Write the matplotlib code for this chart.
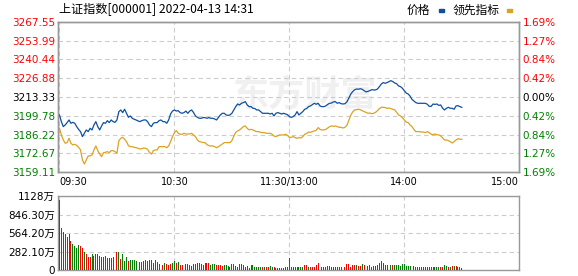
import numpy as np
import matplotlib
matplotlib.use("Agg")
import matplotlib.pyplot as plt
from matplotlib.patches import Rectangle

plt.rcParams['font.family'] = ['DejaVu Sans', 'Noto Sans CJK SC']

# axis setup
prev_close = 3213.33
price_ticks = [3159.11, 3172.67, 3186.22, 3199.78, 3213.33, 3226.88, 3240.44, 3253.99, 3267.55]
pct_labels = ['1.69%', '1.27%', '0.84%', '0.42%', '0.00%', '0.42%', '0.84%', '1.27%', '1.69%']
time_ticks = [0, 60, 120, 180, 240]
time_labels = ['09:30', '10:30', '11:30/13:00', '14:00', '15:00']
vol_ticks = [0, 282.1, 564.2, 846.3, 1128.4]
vol_labels = ['0', '282.10万', '564.20万', '846.30万', '1128万']

# price (blue), one value per minute, 09:30 .. 14:30
price = [3200.4, 3195.6, 3192.0, 3193.2, 3194.9, 3196.8, 3194.4, 3195.1, 3194.4, 3192.0,
         3190.0, 3188.4, 3184.8, 3187.2, 3189.6, 3188.4, 3190.8, 3189.6, 3193.2, 3195.6,
         3192.0, 3189.6, 3192.5, 3194.9, 3194.4, 3196.3, 3194.9, 3196.8, 3195.6, 3195.1,
         3196.8, 3202.8, 3204.0, 3202.1, 3204.5, 3201.6, 3198.7, 3199.7, 3198.0, 3197.3,
         3196.8, 3196.1, 3195.6, 3196.3, 3196.8, 3196.8, 3195.6, 3193.2, 3192.0, 3194.4,
         3194.9, 3194.9, 3196.3, 3196.8, 3195.6, 3195.6, 3194.4, 3196.8,
         3201.1, 3203.2, 3204.0, 3203.2, 3203.5, 3202.1, 3201.6, 3202.1, 3203.2, 3201.6,
         3203.2, 3204.0, 3202.1, 3199.7, 3198.7, 3198.0, 3198.0, 3198.5, 3198.5, 3198.0,
         3198.5, 3198.0, 3198.0, 3197.5, 3196.8, 3198.7, 3200.4, 3201.6, 3201.6, 3200.4,
         3200.1, 3200.4, 3201.6, 3204.0, 3206.4, 3208.3, 3207.6, 3208.8, 3209.3, 3210.0,
         3207.6, 3206.4, 3206.4, 3205.2, 3205.0, 3204.0, 3204.0, 3202.8, 3201.6, 3201.6,
         3201.6, 3201.6, 3201.1, 3201.6, 3199.7, 3201.6, 3202.1, 3201.6, 3201.1, 3201.6,
         3201.1, 3200.6, 3199.2,
         3198.7, 3199.2, 3200.4, 3202.8, 3200.4, 3201.6, 3202.8, 3204.5, 3205.0, 3206.4,
         3206.9, 3207.8, 3208.8, 3208.1, 3208.8, 3206.9, 3206.4, 3206.4, 3206.9, 3208.0,
         3208.8, 3209.0, 3209.8, 3210.0, 3208.8, 3209.3, 3208.5, 3208.3, 3208.5, 3209.8,
         3212.4, 3215.3, 3217.2, 3218.4, 3219.1, 3218.9, 3219.3, 3218.9, 3217.9, 3217.0,
         3217.4, 3217.9, 3218.6, 3218.4, 3218.4, 3219.1, 3220.8, 3222.7, 3223.7, 3223.2,
         3223.7, 3224.4, 3225.1, 3224.4, 3223.4,
         3222.9, 3221.3, 3220.8, 3219.6, 3217.9, 3216.2, 3215.5, 3214.0, 3211.6, 3210.5,
         3209.3, 3208.8, 3208.8, 3208.8, 3208.8, 3208.8, 3208.1, 3206.6, 3206.6, 3208.3,
         3208.0, 3208.3, 3207.3, 3207.6, 3205.2, 3204.0, 3205.2, 3205.9, 3205.2, 3205.2,
         3204.5, 3206.9, 3207.1, 3206.4, 3205.9]

# leading indicator (orange)
lead = [3190.8, 3186.0, 3182.4, 3180.0, 3180.5, 3183.6, 3180.0, 3178.8, 3179.3, 3178.5,
        3177.1, 3175.2, 3168.0, 3165.1, 3168.0, 3170.9, 3170.9, 3171.6, 3175.2, 3178.1,
        3174.7, 3172.3, 3170.4, 3173.3, 3173.5, 3174.0, 3173.3, 3174.7, 3174.7, 3174.0,
        3172.8, 3181.9, 3183.6, 3184.3, 3182.9, 3181.2, 3178.3, 3177.6, 3177.6, 3177.1,
        3176.8, 3176.4, 3175.9, 3176.1, 3176.6, 3176.4, 3175.7, 3173.3, 3172.3, 3174.7,
        3175.2, 3175.2, 3177.6, 3177.6, 3177.6, 3177.6, 3176.8, 3178.1,
        3181.2, 3184.8, 3187.7, 3189.1, 3187.2, 3186.5, 3186.5, 3187.2, 3186.7, 3186.7,
        3186.7, 3187.2, 3186.0, 3184.8, 3182.4, 3181.2, 3181.0, 3180.5, 3180.5, 3179.0,
        3178.3, 3178.1, 3178.1, 3177.6, 3176.8, 3177.6, 3178.5, 3179.5, 3180.5, 3180.5,
        3180.5, 3180.5, 3181.9, 3185.2, 3187.9, 3188.9, 3189.6, 3190.8, 3192.0, 3192.5,
        3190.8, 3189.6, 3190.1, 3189.6, 3188.9, 3188.4, 3188.4, 3187.9, 3187.7, 3187.7,
        3187.2, 3187.2, 3187.2, 3186.5, 3185.2, 3184.8, 3185.5, 3186.0, 3186.0, 3186.0,
        3186.5, 3185.7, 3184.3,
        3184.3, 3184.8, 3184.1, 3183.6, 3184.1, 3183.8, 3184.8, 3186.5, 3187.0, 3188.1,
        3187.9, 3188.4, 3188.9, 3189.3, 3191.3, 3190.0, 3189.6, 3189.6, 3190.0, 3191.0,
        3192.0, 3192.5, 3192.2, 3192.5, 3192.0, 3191.5, 3191.5, 3191.0, 3191.5, 3192.9,
        3196.3, 3200.1, 3202.5, 3204.0, 3204.2, 3204.5, 3204.2, 3203.5, 3202.8, 3202.3,
        3201.6, 3201.8, 3201.3, 3201.6, 3202.3, 3203.5, 3205.0, 3205.9, 3205.9, 3205.7,
        3205.2, 3205.4, 3205.0, 3204.5, 3204.0,
        3202.3, 3200.4, 3199.7, 3198.4, 3196.8, 3195.3, 3194.9, 3193.2, 3192.0, 3190.0,
        3188.4, 3188.4, 3188.4, 3188.1, 3188.1, 3187.7, 3188.4, 3187.7, 3186.5, 3186.2,
        3186.7, 3186.2, 3186.0, 3185.3, 3183.8, 3182.4, 3182.4, 3181.9, 3181.2, 3180.2,
        3181.2, 3182.4, 3183.3, 3182.9, 3182.9]

# volume in 万, and 1 = up minute (red), 0 = down minute (green)
vol_am = [1070, 648, 585, 553, 506, 548, 443, 395, 374, 332, 390, 374, 343, 279, 248, 206, 206,
          248, 216, 248, 248, 216, 200, 200, 216, 190, 184, 184, 200, 216, 279, 279, 169, 248,
          137, 200, 137, 153, 153, 153, 137, 169, 121, 121, 137, 153, 137, 153, 153, 105, 153,
          122, 92, 83, 83, 102, 92, 83, 92, 102, 141, 102, 126, 73, 83, 112, 97, 92, 73, 63, 92,
          92, 112, 102, 92, 83, 112, 112, 102, 83, 92, 92, 73, 73, 73, 63, 83, 73, 63, 53, 92,
          92, 63, 53, 92, 92, 73, 44, 63, 34, 73, 73, 53, 53, 53, 53, 44, 44, 53, 44, 63, 44, 53]
up_am = [0, 1, 0, 1, 1, 0, 1, 0, 0, 0, 0, 1, 1, 0, 1, 1, 1, 0, 0, 1, 1, 0, 1, 0, 1, 0, 1, 0, 0, 1,
         1, 0, 1, 0, 0, 0, 1, 0, 0, 0, 0, 0, 1, 1, 0, 1, 0, 0, 0, 0, 1,
         1, 0, 1, 1, 0, 1, 1, 1, 0, 0, 1, 0, 1, 1, 0, 1, 1, 1, 0, 0, 0,
         0, 0, 0, 0, 1, 1, 1, 0, 0, 0, 1, 1, 1, 1, 0, 0, 0, 1, 1, 1, 0, 1, 1, 1, 0, 0, 0,
         1, 0, 0, 0, 0, 0, 0, 1, 0, 1, 1, 0, 0, 1]
vol_pm = [29, 24, 24, 24, 24, 39, 53, 185, 39, 39, 39, 39, 39, 39, 39, 83, 73, 53, 53, 53,
          53, 83, 112, 83, 53, 53, 39, 63, 63, 53, 53, 53, 53, 39, 39, 39, 53, 97, 97, 53, 73,
          83, 83, 63, 63, 97, 73, 102, 63, 73, 44, 63, 63, 83, 102, 131, 112, 83, 73, 73, 83, 73,
          78, 83, 73, 63, 97, 92, 58, 58, 58, 83, 63, 53, 44, 44, 44, 53, 53, 53, 53, 53, 53, 44,
          44, 44, 53, 53, 78, 63, 53, 53, 63, 63, 68, 53, 44, 24]
up_pm = [1, 1, 1, 1, 0, 1, 0, 0, 1, 1, 1, 1, 0, 0, 0, 1, 1, 0, 1, 1, 1, 1, 1, 0, 0, 0, 1, 1, 1, 0,
         0, 0, 0, 0, 0, 0, 1, 1, 1, 1, 1, 1, 0, 1, 1, 0, 1, 0, 1, 0, 1, 1, 0, 0, 1, 1, 1, 0, 1, 1, 0, 1,
         0, 0, 0, 0, 0, 0, 0, 0, 0, 0, 0, 1, 0, 0, 0, 1, 0, 0, 1, 1, 0, 0, 0,
         0, 1, 1, 0, 0, 1, 0, 1, 0, 1, 1, 0, 0]

vol = vol_am + vol_pm
up = up_am + up_pm

RED = '#ff0000'
GREEN = '#008000'
BLUE = '#0d50a0'
ORANGE = '#dca222'
FRAME = '#999999'
GRID = '#cccccc'

def tick_color(v):
    if abs(v - prev_close) < 0.01:
        return 'black'
    return RED if v > prev_close else GREEN

fig = plt.figure(figsize=(5.78, 2.76), dpi=100)
ax = fig.add_axes([0.1012, 0.3757, 0.7972, 0.5457])
axv = fig.add_axes([0.1012, 0.0217, 0.7972, 0.2671])

t = np.arange(len(price))
ax.plot(t, price, color=BLUE, linewidth=0.9, zorder=3)
ax.plot(np.arange(len(lead)), lead, color=ORANGE, linewidth=0.9, zorder=3)

ax.set_xlim(-0.5, 240)
ax.set_ylim(price_ticks[0], price_ticks[-1])
ax.set_yticks(price_ticks)
ax.set_yticklabels(['%.2f' % v for v in price_ticks])
for lbl, v in zip(ax.get_yticklabels(), price_ticks):
    lbl.set_color(tick_color(v))
ax.set_xticks(time_ticks)
ax.set_xticklabels(time_labels)
xl = ax.get_xticklabels()
xl[0].set_horizontalalignment('left')
xl[-1].set_horizontalalignment('right')
ax.tick_params(axis='y', length=0, pad=2.5, labelsize=7.5)
ax.tick_params(axis='x', length=0, pad=3.5, labelsize=7)
ax.grid(True, color=GRID, linestyle=(0, (4, 3)), linewidth=0.8)

axr = ax.twinx()
axr.set_ylim(price_ticks[0], price_ticks[-1])
axr.set_yticks(price_ticks)
axr.set_yticklabels(pct_labels)
for lbl, v in zip(axr.get_yticklabels(), price_ticks):
    lbl.set_color(tick_color(v))
axr.tick_params(axis='y', length=0, pad=2.5, labelsize=7.5)

# watermark
ax.text(0.535, 0.513, '东方财富', transform=ax.transAxes, ha='center', va='center',
        fontsize=26, fontweight='bold', color='#f0f0f0', family=['Noto Sans CJK SC'], zorder=0.5)

axv.bar(np.arange(len(vol)), vol, width=0.5,
        color=[RED if u else GREEN for u in up], zorder=3)
axv.set_xlim(-0.5, 240)
axv.set_ylim(0, vol_ticks[-1])
axv.set_yticks(vol_ticks)
axv.set_yticklabels(vol_labels)
axv.set_xticks(time_ticks)
axv.set_xticklabels([])
axv.tick_params(axis='y', length=0, pad=2.5, labelsize=7.5)
axv.tick_params(axis='x', length=0)
axv.grid(True, color=GRID, linestyle=(0, (4, 3)), linewidth=0.8)

for a in (ax, axr, axv):
    for s in a.spines.values():
        s.set_color(FRAME)
        s.set_linewidth(1.0)

# title and legend
fig.text(59 / 578, 1 - 10 / 276, '上证指数[000001] 2022-04-13 14:31', va='center', ha='left',
         fontsize=8.7, family=['Noto Sans CJK SC', 'DejaVu Sans'])
fig.text(407 / 578, 1 - 10 / 276, '价格', va='center', ha='left',
         fontsize=8.5, family=['Noto Sans CJK SC'])
fig.text(453 / 578, 1 - 10 / 276, '领先指标', va='center', ha='left',
         fontsize=8.5, family=['Noto Sans CJK SC'])
fig.patches.append(Rectangle((439 / 578, 1 - 12 / 276), 5 / 578, 3 / 276,
                             transform=fig.transFigure, color=BLUE))
fig.patches.append(Rectangle((507 / 578, 1 - 12 / 276), 5 / 578, 3 / 276,
                             transform=fig.transFigure, color=ORANGE))

fig.savefig('out.png', dpi=100)
